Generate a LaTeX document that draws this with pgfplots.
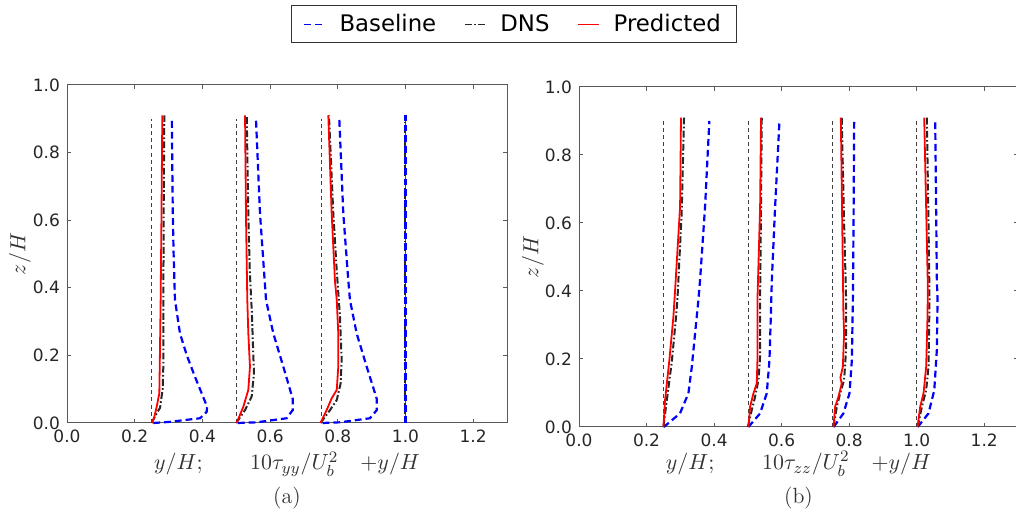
\documentclass[border=0pt]{standalone}
\usepackage{fontspec}
\usepackage{pgfplots}
\pgfplotsset{compat=1.18}
\newfontfamily\tickfont{DejaVu Sans}

\tikzset{
  base/.style={blue, line width=1.1pt, dash pattern=on 3.4pt off 2pt},
  dns/.style={black!85, line width=1pt, dash pattern=on 3.4pt off 1.2pt on 0.8pt off 1.2pt},
  pred/.style={red, line width=0.9pt},
  refl/.style={black!75, line width=0.35pt, dash pattern=on 2pt off 1.6pt},
}
\pgfplotsset{
  panel/.style={
    scale only axis,
    xmin=0, xmax=1.3, ymin=0, ymax=1.0,
    xtick={0,0.2,...,1.2}, ytick={0,0.2,...,1.0},
    tick pos=both, xticklabel pos=lower, yticklabel pos=left,
    tick align=inside,
    major tick length=2.2pt,
    axis line style={black!65, line width=0.5pt},
    every tick/.style={black!65, line width=0.5pt},
    tick label style={font=\tickfont\fontsize{8.5}{10}\selectfont, text=black!85},
    xticklabel style={/pgf/number format/.cd, fixed, fixed zerofill, precision=1, assume math mode=true},
    yticklabel style={/pgf/number format/.cd, fixed, fixed zerofill, precision=1, assume math mode=true},
    label style={font=\fontsize{11}{13}\selectfont, text=black!80},
    ylabel={$z/H$},
    clip=false,
  }
}

\begin{document}
\begin{tikzpicture}
\path[use as bounding box] (0,0) rectangle (508pt,256pt);
\clip (0,0) rectangle (508pt,256pt);

% (a) tau_yy
\begin{axis}[panel,
  at={(33.5pt,44.5pt)}, anchor=south west, width=220pt, height=169pt,
  xlabel={$y/H;\qquad 10\tau_{yy}/U_b^2\quad {+}y/H$},
  xlabel style={at={(axis description cs:0.5,-0.139)}, anchor=base},
  ylabel style={at={(axis description cs:-0.107,0.5)}, anchor=center},
  legend style={at={(1.016,1.180)}, anchor=center, legend columns=3,
    draw=black!80, line width=0.5pt, fill=white,
    font=\tickfont\fontsize{11.4}{13}\selectfont,
    inner xsep=6pt, inner ysep=2pt,
    /tikz/every odd column/.append style={column sep=5pt},
    /tikz/every even column/.append style={column sep=12pt}},
  legend image code/.code={\draw[#1, line width=0.6pt] (0pt,0pt) -- (10.5pt,0pt);},
]
\addplot[base] coordinates {(0.255,0) (0.30,0.003) (0.393,0.014) (0.4126,0.033) (0.414,0.048) (0.395,0.095) (0.378,0.137) (0.354,0.2) (0.3338,0.265) (0.319,0.364) (0.315,0.5) (0.3125,0.62) (0.3097,0.9)};
\addlegendentry{Baseline}
\addplot[dns] coordinates {(0.250,0) (0.265,0.029) (0.275,0.045) (0.278,0.068) (0.2826,0.10) (0.2846,0.167) (0.2846,0.324) (0.2856,0.62) (0.2875,0.91)};
\addlegendentry{DNS}
\addplot[pred] coordinates {(0.250,0) (0.257,0.014) (0.265,0.048) (0.2728,0.088) (0.2747,0.216) (0.2767,0.364) (0.279,0.6) (0.2816,0.91)};
\addlegendentry{Predicted}

\addplot[refl, forget plot] coordinates {(0.25,0) (0.25,0.9)};
\addplot[refl, forget plot] coordinates {(0.5,0) (0.5,0.9)};
\addplot[refl, forget plot] coordinates {(0.75,0) (0.75,0.9)};

\addplot[base, forget plot] coordinates {(0.505,0) (0.56,0.002) (0.649,0.014) (0.6667,0.038) (0.6667,0.072) (0.639,0.167) (0.6096,0.265) (0.588,0.364) (0.5702,0.62) (0.5583,0.9)};
\addplot[dns, forget plot] coordinates {(0.500,0) (0.5258,0.038) (0.5456,0.078) (0.5524,0.147) (0.5505,0.2) (0.546,0.33) (0.540,0.45) (0.5357,0.62) (0.531,0.91)};
\addplot[pred, forget plot] coordinates {(0.501,0) (0.521,0.048) (0.5357,0.098) (0.5406,0.167) (0.5357,0.265) (0.5327,0.364) (0.529,0.6) (0.526,0.91)};

\addplot[base, forget plot] coordinates {(0.755,0) (0.8065,0.002) (0.895,0.014) (0.915,0.038) (0.915,0.072) (0.8853,0.167) (0.8558,0.265) (0.836,0.364) (0.831,0.423) (0.8163,0.62) (0.8045,0.9)};
\addplot[dns, forget plot] coordinates {(0.749,0) (0.777,0.038) (0.797,0.068) (0.8085,0.117) (0.8115,0.186) (0.8065,0.315) (0.797,0.45) (0.7868,0.62) (0.774,0.91)};
\addplot[pred, forget plot] coordinates {(0.749,0) (0.767,0.038) (0.782,0.073) (0.797,0.098) (0.8015,0.167) (0.8015,0.265) (0.797,0.364) (0.7917,0.42) (0.782,0.62) (0.772,0.91)};

\addplot[pred, forget plot] coordinates {(1.0,0) (1.0,0.91)};
\addplot[dns, forget plot] coordinates {(1.0,0) (1.0,0.91)};
\addplot[base, forget plot] coordinates {(1.0,0) (1.0,0.91)};

\node[anchor=base, font=\fontsize{11}{13}\selectfont, text=black!80] at (rel axis cs:0.5,-0.237) {(a)};
\end{axis}

% (b) tau_zz
\begin{axis}[panel,
  at={(289.5pt,42.5pt)}, anchor=south west, width=219.5pt, height=170pt,
  xlabel={$y/H;\qquad 10\tau_{zz}/U_b^2\quad {+}y/H$},
  xlabel style={at={(axis description cs:0.5,-0.126)}, anchor=base},
  ylabel style={at={(axis description cs:-0.105,0.5)}, anchor=center},
]
\addplot[refl] coordinates {(0.25,0) (0.25,0.9)};
\addplot[refl] coordinates {(0.5,0) (0.5,0.9)};
\addplot[refl] coordinates {(0.75,0) (0.75,0.9)};
\addplot[refl] coordinates {(1.0,0) (1.0,0.9)};

\addplot[base] coordinates {(0.25,0) (0.2548,0.003) (0.299,0.04) (0.324,0.099) (0.334,0.177) (0.3437,0.275) (0.3536,0.374) (0.3585,0.432) (0.3733,0.648) (0.386,0.9)};
\addplot[dns] coordinates {(0.25,0) (0.26,0.079) (0.2746,0.19) (0.2874,0.324) (0.2914,0.374) (0.304,0.628) (0.311,0.91)};
\addplot[pred] coordinates {(0.25,0) (0.2548,0.079) (0.2676,0.197) (0.2795,0.324) (0.2844,0.40) (0.2993,0.648) (0.302,0.91)};

\addplot[base] coordinates {(0.5017,0) (0.5363,0.04) (0.556,0.099) (0.564,0.197) (0.568,0.324) (0.571,0.432) (0.5807,0.648) (0.5936,0.9)};
\addplot[dns] coordinates {(0.50,0) (0.5116,0.05) (0.5215,0.089) (0.5314,0.138) (0.5363,0.207) (0.5363,0.374) (0.539,0.65) (0.5412,0.91)};
\addplot[pred] coordinates {(0.5017,0) (0.5067,0.06) (0.5165,0.099) (0.5264,0.128) (0.5284,0.197) (0.5284,0.374) (0.5363,0.648) (0.539,0.91)};

\addplot[base] coordinates {(0.754,0) (0.783,0.04) (0.801,0.099) (0.808,0.197) (0.811,0.374) (0.813,0.6) (0.8148,0.9)};
\addplot[dns] coordinates {(0.7536,0) (0.7635,0.06) (0.7733,0.099) (0.785,0.138) (0.791,0.227) (0.791,0.374) (0.785,0.6) (0.778,0.91)};
\addplot[pred] coordinates {(0.7536,0) (0.7585,0.06) (0.7684,0.089) (0.778,0.128) (0.774,0.145) (0.7813,0.177) (0.785,0.275) (0.783,0.335) (0.7753,0.91)};

\addplot[base] coordinates {(1.003,0) (1.035,0.04) (1.052,0.108) (1.0597,0.227) (1.0617,0.374) (1.0597,0.432) (1.0548,0.9)};
\addplot[dns] coordinates {(1.003,0) (1.0153,0.06) (1.028,0.108) (1.035,0.177) (1.038,0.374) (1.035,0.6) (1.03,0.91)};
\addplot[pred] coordinates {(1.0025,0) (1.0104,0.06) (1.0202,0.099) (1.028,0.177) (1.032,0.324) (1.033,0.413) (1.0222,0.91)};

\node[anchor=base, font=\fontsize{11}{13}\selectfont, text=black!80] at (rel axis cs:0.5,-0.224) {(b)};
\end{axis}
\end{tikzpicture}
\end{document}
